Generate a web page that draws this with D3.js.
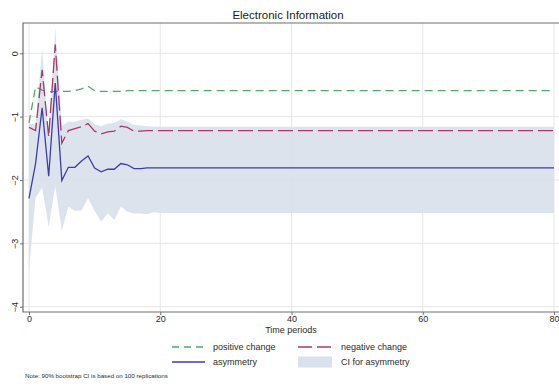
<!DOCTYPE html>
<html>
<head>
<meta charset="utf-8">
<script src="https://cdn.jsdelivr.net/npm/d3@7"></script>
<style>
  html, body { margin: 0; padding: 0; background: #ffffff; }
  svg { display: block; font-family: "Liberation Sans", Arial, sans-serif; }
</style>
</head>
<body>
<svg id="chart" width="559" height="387"></svg>
<script>
// Time periods 0..80
const periods = d3.range(0, 81);

// Cumulative dynamic multipliers
const positiveChange = [
  -1.10, -0.53, -0.58, -0.61, -0.60, -0.60, -0.60, -0.59, -0.56, -0.52,
  -0.59, -0.60, -0.60, -0.60, -0.60, -0.59, -0.59, -0.59, -0.59, -0.59,
  -0.59, -0.59, -0.59, -0.59, -0.59, -0.59, -0.59, -0.59, -0.59, -0.59,
  -0.59, -0.59, -0.59, -0.59, -0.59, -0.59, -0.59, -0.59, -0.59, -0.59,
  -0.59, -0.59, -0.59, -0.59, -0.59, -0.59, -0.59, -0.59, -0.59, -0.59,
  -0.59, -0.59, -0.59, -0.59, -0.59, -0.59, -0.59, -0.59, -0.59, -0.59,
  -0.59, -0.59, -0.59, -0.59, -0.59, -0.59, -0.59, -0.59, -0.59, -0.59,
  -0.59, -0.59, -0.59, -0.59, -0.59, -0.59, -0.59, -0.59, -0.59, -0.59,
  -0.59
];

const negativeChange = [
  -1.17, -1.22, -0.26, -1.32, 0.14, -1.42, -1.22, -1.19, -1.16, -1.11,
  -1.23, -1.27, -1.24, -1.23, -1.15, -1.17, -1.23, -1.23, -1.22, -1.22,
  -1.22, -1.22, -1.22, -1.22, -1.22, -1.22, -1.22, -1.22, -1.22, -1.22,
  -1.22, -1.22, -1.22, -1.22, -1.22, -1.22, -1.22, -1.22, -1.22, -1.22,
  -1.22, -1.22, -1.22, -1.22, -1.22, -1.22, -1.22, -1.22, -1.22, -1.22,
  -1.22, -1.22, -1.22, -1.22, -1.22, -1.22, -1.22, -1.22, -1.22, -1.22,
  -1.22, -1.22, -1.22, -1.22, -1.22, -1.22, -1.22, -1.22, -1.22, -1.22,
  -1.22, -1.22, -1.22, -1.22, -1.22, -1.22, -1.22, -1.22, -1.22, -1.22,
  -1.22
];

const asymmetry = [
  -2.29, -1.74, -0.86, -1.94, -0.47, -2.01, -1.80, -1.80, -1.70, -1.62,
  -1.81, -1.87, -1.83, -1.83, -1.74, -1.76, -1.82, -1.82, -1.81, -1.81,
  -1.81, -1.81, -1.81, -1.81, -1.81, -1.81, -1.81, -1.81, -1.81, -1.81,
  -1.81, -1.81, -1.81, -1.81, -1.81, -1.81, -1.81, -1.81, -1.81, -1.81,
  -1.81, -1.81, -1.81, -1.81, -1.81, -1.81, -1.81, -1.81, -1.81, -1.81,
  -1.81, -1.81, -1.81, -1.81, -1.81, -1.81, -1.81, -1.81, -1.81, -1.81,
  -1.81, -1.81, -1.81, -1.81, -1.81, -1.81, -1.81, -1.81, -1.81, -1.81,
  -1.81, -1.81, -1.81, -1.81, -1.81, -1.81, -1.81, -1.81, -1.81, -1.81,
  -1.81
];

// 90% bootstrap confidence band for asymmetry
const ciUpper = [
  -1.10, -1.13, 0.08, -1.35, 0.40, -1.15, -1.08, -1.08, -1.05, -1.03,
  -1.12, -1.15, -1.11, -1.10, -1.04, -1.08, -1.13, -1.14, -1.15, -1.16,
  -1.16, -1.16, -1.16, -1.16, -1.16, -1.16, -1.16, -1.16, -1.16, -1.16,
  -1.16, -1.16, -1.16, -1.16, -1.16, -1.16, -1.16, -1.16, -1.16, -1.16,
  -1.16, -1.16, -1.16, -1.16, -1.16, -1.16, -1.16, -1.16, -1.16, -1.16,
  -1.16, -1.16, -1.16, -1.16, -1.16, -1.16, -1.16, -1.16, -1.16, -1.16,
  -1.16, -1.16, -1.16, -1.16, -1.16, -1.16, -1.16, -1.16, -1.16, -1.16,
  -1.16, -1.16, -1.16, -1.16, -1.16, -1.16, -1.16, -1.16, -1.16, -1.16,
  -1.16
];

const ciLower = [
  -3.42, -2.28, -2.12, -2.74, -2.10, -2.80, -2.42, -2.49, -2.48, -2.29,
  -2.49, -2.66, -2.52, -2.63, -2.42, -2.50, -2.53, -2.53, -2.54, -2.51,
  -2.52, -2.52, -2.52, -2.52, -2.52, -2.52, -2.52, -2.52, -2.52, -2.52,
  -2.52, -2.52, -2.52, -2.52, -2.52, -2.52, -2.52, -2.52, -2.52, -2.52,
  -2.52, -2.52, -2.52, -2.52, -2.52, -2.52, -2.52, -2.52, -2.52, -2.52,
  -2.52, -2.52, -2.52, -2.52, -2.52, -2.52, -2.52, -2.52, -2.52, -2.52,
  -2.52, -2.52, -2.52, -2.52, -2.52, -2.52, -2.52, -2.52, -2.52, -2.52,
  -2.52, -2.52, -2.52, -2.52, -2.52, -2.52, -2.52, -2.52, -2.52, -2.52,
  -2.52
];

const xTicks = [0, 20, 40, 60, 80];
const yTicks = [-4, -3, -2, -1, 0];

const titleText = "Electronic Information";
const xTitle = "Time periods";
const legendItems = [
  { label: "positive change", kind: "pos" },
  { label: "negative change", kind: "neg" },
  { label: "asymmetry", kind: "asym" },
  { label: "CI for asymmetry", kind: "ci" }
];
const noteText = "Note: 90% bootstrap CI is based on 100 replications";

// ---- styling ----
const colors = {
  pos: "#4fa86c",
  neg: "#a8386a",
  asym: "#3c3cae",
  ci: "#d9e1ec",
  grid: "#e6e6e6",
  frame: "#6e6e6e",
  text: "#2b2b2b"
};
const dashes = { pos: "8,5", neg: "15,5", asym: null };

const svg = d3.select("#chart");

const frame = { left: 23, top: 23, right: 563, bottom: 312 };
const x = d3.scaleLinear().domain([0, 80]).range([29, 554]);
const y = d3.scaleLinear().domain([-4, 0]).range([306.7, 53.3]);

const plotClip = svg.append("clipPath").attr("id", "plotclip")
  .append("rect")
  .attr("x", frame.left).attr("y", frame.top)
  .attr("width", frame.right - frame.left).attr("height", frame.bottom - frame.top);

// gridlines
const grid = svg.append("g");
grid.selectAll("line.h").data(yTicks).join("line")
  .attr("x1", frame.left).attr("x2", frame.right)
  .attr("y1", d => y(d)).attr("y2", d => y(d))
  .attr("stroke", colors.grid).attr("stroke-width", 1);
grid.selectAll("line.v").data(xTicks).join("line")
  .attr("x1", d => x(d)).attr("x2", d => x(d))
  .attr("y1", frame.top).attr("y2", frame.bottom)
  .attr("stroke", colors.grid).attr("stroke-width", 1);

const plot = svg.append("g").attr("clip-path", "url(#plotclip)");

// confidence band
const area = d3.area()
  .x((d, i) => x(periods[i]))
  .y0((d, i) => y(ciLower[i]))
  .y1((d, i) => y(ciUpper[i]));
plot.append("path")
  .datum(periods)
  .attr("d", area)
  .attr("fill", colors.ci)
  .attr("fill-opacity", 0.92);

// lines
const lineFor = vals => d3.line()
  .x((d, i) => x(periods[i]))
  .y((d, i) => y(vals[i]))(periods);

const series = [
  { vals: positiveChange, kind: "pos" },
  { vals: negativeChange, kind: "neg" },
  { vals: asymmetry, kind: "asym" }
];
series.forEach(s => {
  plot.append("path")
    .attr("d", lineFor(s.vals))
    .attr("fill", "none")
    .attr("stroke", colors[s.kind])
    .attr("stroke-width", 1.3)
    .attr("stroke-linejoin", "miter")
    .attr("stroke-dasharray", dashes[s.kind]);
});

// frame (right side lies outside the canvas)
svg.append("path")
  .attr("d", `M${frame.right},${frame.top}H${frame.left}V${frame.bottom}H${frame.right}`)
  .attr("fill", "none")
  .attr("stroke", colors.frame)
  .attr("stroke-width", 1.2);

// axes
const xAxis = d3.axisBottom(x).tickValues(xTicks).tickSize(3).tickPadding(1)
  .tickFormat(d3.format("d"));
const xg = svg.append("g").attr("transform", `translate(0,${frame.bottom})`).call(xAxis);
xg.select(".domain").remove();
xg.selectAll("line").attr("stroke", colors.frame);
xg.selectAll("text").attr("font-size", 9).attr("fill", colors.text)
  .attr("font-family", "Liberation Sans, Arial, sans-serif");

const yAxis = d3.axisLeft(y).tickValues(yTicks).tickSize(3).tickPadding(4)
  .tickFormat(d3.format("d"));
const yg = svg.append("g").attr("transform", `translate(${frame.left},0)`).call(yAxis);
yg.select(".domain").remove();
yg.selectAll("line").attr("stroke", colors.frame);
yg.selectAll("text")
  .attr("font-size", 9).attr("fill", colors.text)
  .attr("font-family", "Liberation Sans, Arial, sans-serif")
  .attr("x", null).attr("dy", null)
  .attr("text-anchor", "middle")
  .attr("transform", "translate(-8,0) rotate(-90)")
  .attr("dominant-baseline", "central");

// title
svg.append("text")
  .attr("x", 288).attr("y", 19)
  .attr("text-anchor", "middle")
  .attr("font-size", 11.5)
  .attr("fill", "#1a1a1a")
  .text(titleText);

// x axis title
svg.append("text")
  .attr("x", 291).attr("y", 333)
  .attr("text-anchor", "middle")
  .attr("font-size", 9)
  .attr("fill", colors.text)
  .text(xTitle);

// legend
const legendPos = [
  { sx: 172, tx: 213, y: 347 },
  { sx: 298, tx: 341, y: 347 },
  { sx: 172, tx: 213, y: 362 },
  { sx: 298, tx: 341, y: 362 }
];
const lg = svg.append("g");
legendItems.forEach((item, i) => {
  const p = legendPos[i];
  if (item.kind === "ci") {
    lg.append("rect")
      .attr("x", p.sx).attr("y", p.y - 5.5)
      .attr("width", 34).attr("height", 11)
      .attr("fill", colors.ci);
  } else {
    lg.append("line")
      .attr("x1", p.sx).attr("x2", p.sx + 33)
      .attr("y1", p.y).attr("y2", p.y)
      .attr("stroke", colors[item.kind])
      .attr("stroke-width", 1.3)
      .attr("stroke-dasharray", item.kind === "pos" ? "7,5" : (item.kind === "neg" ? "14,5" : null));
  }
  lg.append("text")
    .attr("x", p.tx).attr("y", p.y + 3.2)
    .attr("font-size", 9)
    .attr("fill", colors.text)
    .text(item.label);
});

// note
svg.append("text")
  .attr("x", 25).attr("y", 378)
  .attr("font-size", 6.2)
  .attr("fill", colors.text)
  .text(noteText);
</script>
</body>
</html>
